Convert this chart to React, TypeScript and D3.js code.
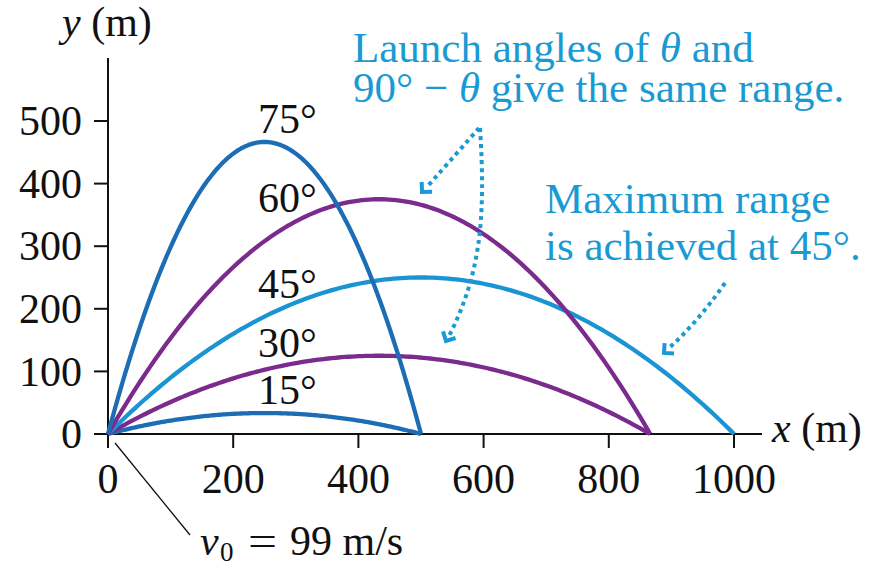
import React from "react";
import * as d3 from "d3";

const WIDTH = 877;
const HEIGHT = 568;

// Launch angles (degrees), drawn as trajectories for one launch speed
const launchAngles = [15, 30, 45, 60, 75];
const launchSpeed = 99; // m/s
const gravity = 9.8; // m/s^2
const xTicks = [0, 200, 400, 600, 800, 1000];
const yTicks = [0, 100, 200, 300, 400, 500];

const DARK_BLUE = "#1d6db4";
const PURPLE = "#7b2a8e";
const LIGHT_BLUE = "#1b94d3";
const NOTE = "#1a9ad3";
const INK = "#111";
const angleColors: Record<number, string> = {
  15: DARK_BLUE,
  30: PURPLE,
  45: LIGHT_BLUE,
  60: PURPLE,
  75: DARK_BLUE,
};

// label baselines (px) for each angle
const angleLabelY: Record<number, number> = { 75: 133, 60: 212, 45: 298, 30: 357, 15: 404 };

const FONT = "'Liberation Serif', 'Times New Roman', serif";
const FS = 42;
const NOTE_FS = 43;

const x = d3.scaleLinear().domain([0, 1000]).range([108, 734]);
const y = d3.scaleLinear().domain([0, 500]).range([434, 121]);

function trajectory(angleDeg: number): [number, number][] {
  const th = (angleDeg * Math.PI) / 180;
  const range = (launchSpeed * launchSpeed * Math.sin(2 * th)) / gravity;
  const n = 160;
  const pts: [number, number][] = [];
  for (let i = 0; i <= n; i++) {
    const xx = (range * i) / n;
    const yy =
      xx * Math.tan(th) -
      (gravity * xx * xx) / (2 * launchSpeed * launchSpeed * Math.cos(th) ** 2);
    pts.push([xx, Math.max(0, yy)]);
  }
  return pts;
}

const line = d3
  .line<[number, number]>()
  .x((d) => x(d[0]))
  .y((d) => y(d[1]))
  .curve(d3.curveLinear);

// dotted annotation arrow with an open chevron head
function DottedArrow({ d, tip, from }: { d: string; tip: [number, number]; from: [number, number] }) {
  const dx = tip[0] - from[0];
  const dy = tip[1] - from[1];
  const len = Math.hypot(dx, dy);
  const ux = -dx / len;
  const uy = -dy / len;
  const arm = 10;
  const rot = (a: number): [number, number] => [
    ux * Math.cos(a) - uy * Math.sin(a),
    ux * Math.sin(a) + uy * Math.cos(a),
  ];
  const a1 = rot(Math.PI / 4);
  const a2 = rot(-Math.PI / 4);
  return (
    <g>
      <path d={d} fill="none" stroke={NOTE} strokeWidth={4} strokeDasharray="4 4" />
      <polyline
        points={`${tip[0] + a1[0] * arm},${tip[1] + a1[1] * arm} ${tip[0]},${tip[1]} ${tip[0] + a2[0] * arm},${tip[1] + a2[1] * arm}`}
        fill="none"
        stroke={NOTE}
        strokeWidth={4}
        strokeLinejoin="miter"
      />
    </g>
  );
}

export default function App() {
  return (
    <svg
      width={WIDTH}
      height={HEIGHT}
      viewBox={`0 0 ${WIDTH} ${HEIGHT}`}
      style={{ position: "absolute", left: 0, top: 0, background: "#fff" }}
      fontFamily={FONT}
    >
      {/* axes */}
      <line x1={x(0)} x2={x(0)} y1={58} y2={y(0) + 14} stroke={INK} strokeWidth={2} />
      <line x1={x(0) - 14} x2={762} y1={y(0)} y2={y(0)} stroke={INK} strokeWidth={2} />
      {yTicks.map((t) => (
        <g key={"y" + t}>
          {t > 0 && <line x1={x(0) - 14} x2={x(0)} y1={y(t)} y2={y(t)} stroke={INK} strokeWidth={2} />}
          <text x={82} y={y(t)} dy="0.34em" textAnchor="end" fontSize={FS} fill={INK}>
            {t}
          </text>
        </g>
      ))}
      {xTicks.map((t) => (
        <g key={"x" + t}>
          {t > 0 && <line x1={x(t)} x2={x(t)} y1={y(0)} y2={y(0) + 14} stroke={INK} strokeWidth={2} />}
          <text x={x(t)} y={493} textAnchor="middle" fontSize={FS} fill={INK}>
            {t}
          </text>
        </g>
      ))}
      <text x={62} y={36} fontSize={FS} fill={INK}>
        <tspan fontStyle="italic">y</tspan> (m)
      </text>
      <text x={772} y={442} fontSize={FS} fill={INK}>
        <tspan fontStyle="italic">x</tspan> (m)
      </text>

      {/* trajectories */}
      {launchAngles.map((a) => (
        <path
          key={a}
          d={line(trajectory(a)) || ""}
          fill="none"
          stroke={angleColors[a]}
          strokeWidth={4.3}
          strokeLinejoin="round"
        />
      ))}

      {/* angle labels */}
      {launchAngles.map((a) => (
        <text key={"l" + a} x={258} y={angleLabelY[a]} fontSize={FS} fill={INK}>
          {a}°
        </text>
      ))}

      {/* launch speed label */}
      <line x1={115} y1={443} x2={190} y2={535} stroke={INK} strokeWidth={1.3} />
      <text x={200} y={555} fontSize={FS} fill={INK} fontStyle="italic">v</text>
      <text x={220} y={561} fontSize={27} fill={INK}>0</text>
      <text x={248} y={555} fontSize={FS} fill={INK} textLength={29} lengthAdjust="spacingAndGlyphs">=</text>
      <text x={290} y={555} fontSize={FS} fill={INK}>99 m/s</text>

      {/* notes */}
      <text fontSize={NOTE_FS} fill={NOTE}>
        <tspan x={353} y={62}>
          Launch angles of <tspan fontStyle="italic">θ</tspan> and
        </tspan>
        <tspan x={353} y={102}>
          90° − <tspan fontStyle="italic">θ</tspan> give the same range.
        </tspan>
      </text>
      <text fontSize={NOTE_FS} fill={NOTE}>
        <tspan x={545} y={213}>Maximum range</tspan>
        <tspan x={545} y={260}>is achieved at 45°.</tspan>
      </text>

      <DottedArrow d="M 479 128 Q 458 152 426 188" tip={[422, 192]} from={[452, 160]} />
      <DottedArrow d="M 480 128 C 486 220, 480 275, 449 336" tip={[446, 341]} from={[458, 318]} />
      <DottedArrow d="M 725 283 Q 698 322 668 349" tip={[664, 353]} from={[690, 330]} />
    </svg>
  );
}
